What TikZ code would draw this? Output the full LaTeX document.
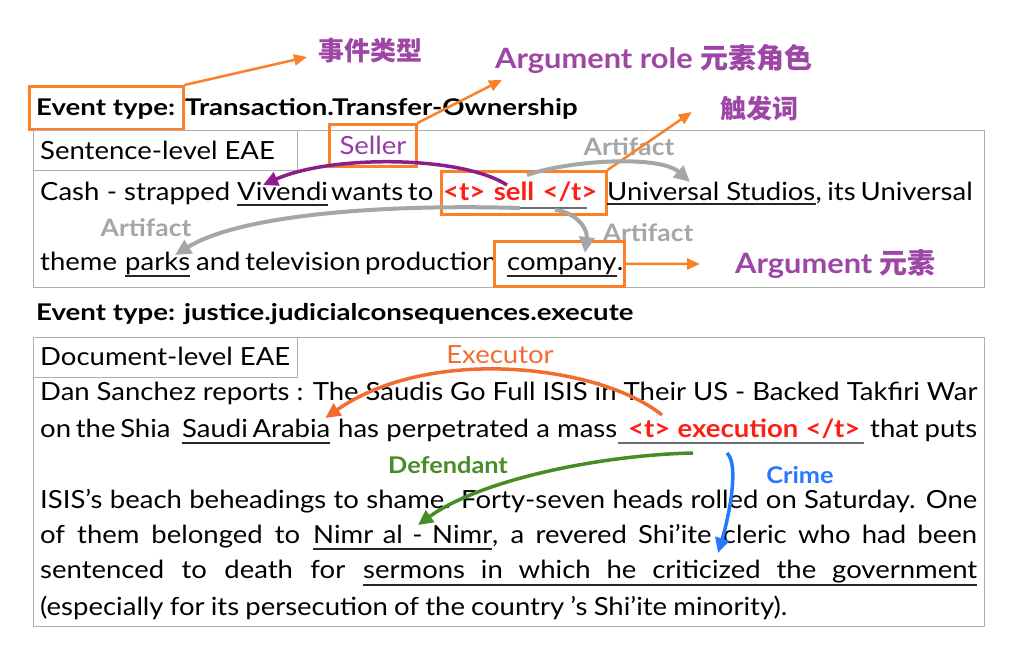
\documentclass[tikz,border=0pt]{standalone}
\usepackage{fontspec}
\setmainfont{Lato}[FakeStretch=1.1]
\newfontfamily\hdfont{Lato}[FakeStretch=1.2]
\newfontfamily\cjk{Noto Sans CJK SC}
\usetikzlibrary{arrows.meta,calc}
\definecolor{orangeA}{RGB}{252,128,40}
\definecolor{purpleL}{RGB}{158,70,165}
\definecolor{purpleS}{RGB}{150,60,165}
\definecolor{purpleA}{RGB}{140,30,140}
\definecolor{grayA}{RGB}{166,166,166}
\definecolor{grayU}{RGB}{110,110,110}
\definecolor{frameC}{RGB}{175,175,175}
\definecolor{redT}{RGB}{255,30,20}
\definecolor{execC}{RGB}{242,108,50}
\definecolor{greenD}{RGB}{72,140,40}
\definecolor{blueC}{RGB}{40,120,255}
\begin{document}
\begin{tikzpicture}[x=1pt,y=-1pt,
  txt/.style={inner sep=0pt, anchor=base west, font=\fontsize{25}{30}\selectfont},
  btxt/.style={inner sep=0pt, anchor=base west, font=\hdfont\bfseries\fontsize{23}{27}\selectfont},
  trg/.style={inner sep=0pt, anchor=base west, text=redT, font=\bfseries\fontsize{25}{30}\selectfont},
  lab/.style={inner sep=0pt, text=purpleL, font=\bfseries\fontsize{28}{32}\selectfont},
  cn/.style={inner sep=0pt, text=purpleL, font=\cjk\bfseries\fontsize{26}{30}\selectfont},
  artlab/.style={inner sep=0pt, text=grayA, font=\bfseries\fontsize{24}{28}\selectfont},
  obox/.style={draw=orangeA, line width=2.5pt, inner sep=0pt, anchor=north west},
  gbox/.style={draw=frameC, line width=1pt, inner sep=0pt, anchor=north west},
  oarrow/.style={draw=orangeA, line width=2.5pt, -{Triangle[length=13pt,width=11pt]}},
  garrow/.style={draw=grayA, line width=4pt, -{Triangle[length=16pt,width=15pt]}},
  parrow/.style={draw=purpleA, line width=3.5pt, -{Triangle[length=15pt,width=14pt]}},
  earrow/.style={draw=execC, line width=3.5pt, -{Triangle[length=15pt,width=14pt]}},
  darrow/.style={draw=greenD, line width=3.5pt, -{Triangle[length=15pt,width=14pt]}},
  carrow/.style={draw=blueC, line width=3.5pt, -{Triangle[length=15pt,width=14pt]}},
  uline/.style={draw=black!85, line width=1.2pt},
  tline/.style={draw=grayU, line width=1.8pt}
]
\useasboundingbox (0,0) rectangle (1026,648);
\fill[white] (0,0) rectangle (1026,648);

% ---------------- Sentence-level part ----------------
\node[obox, minimum width=154, minimum height=43] (evbox) at (28,85) {};
\node[btxt] (ev1) at (36,115) {Event type:};
\node[btxt] (ev1v) at (185,115) {Transaction.Transfer-Ownership};
\node[cn, anchor=west] (cnevt) at (318,51) {事件类型};
\draw[oarrow] (evbox.north east) -- ([xshift=-11pt,yshift=-6pt]cnevt.west);

\node[lab, anchor=west] (argrole) at (495,59) {Argument role {\cjk\bfseries 元素角色}};

\node[gbox, minimum width=951, minimum height=157] (sframe) at (33,130) {};
\node[gbox, minimum width=264, minimum height=40] (slabbox) at (33,130) {};
\node[txt] (slab) at (40,159) {Sentence-level EAE};

\node[obox, minimum width=87, minimum height=42] (sellbox) at (328,123) {};
\node[inner sep=0pt, text=purpleS, font=\fontsize{25}{30}\selectfont] (seller) at (373,145) {Seller};
\draw[oarrow] (sellbox.north east) -- ([xshift=7pt,yshift=-6pt]argrole.south west);

\node[artlab] (art1) at (629,147) {Artifact};
\node[artlab] (art2) at (146,228) {Artifact};
\node[artlab] (art3) at (648,233) {Artifact};

% line 1
\node[txt] (s1a) at (40,200) {\makebox[190pt][s]{Cash - strapped}};
\node[txt] (viv) at (237,200) {Vivendi};
\node[txt] (s1b) at (331,200) {\makebox[101pt][s]{wants to}};
\node[trg] (trig1) at (443,200) {\makebox[154pt][s]{<t> sell </t>}};
\node[txt] (us) at (607,200) {Universal Studios};
\node[txt] (s1c) at (us.base east) {\makebox[157pt][s]{, its Universal}};
\node[obox, minimum width=165, minimum height=43] (trigbox) at (440,170) {};
\draw[uline] ([yshift=-5pt]viv.base west) -- ([yshift=-5pt]viv.base east);
\draw[uline] ([yshift=-4pt]us.base west) -- ([yshift=-4pt]us.base east);
\draw[tline] ([xshift=69pt,yshift=-8pt]trig1.base west) -- ([xshift=144pt,yshift=-8pt]trig1.base west);

% line 2
\node[txt] (s2a) at (40,270) {theme};
\node[txt] (parks) at (125,270) {parks};
\node[txt] (s2b) at (196,270) {\makebox[301pt][s]{and television production}};
\node[txt] (comp) at (507,270) {company};
\node[txt] (dot) at (comp.base east) {.};
\node[obox, minimum width=130, minimum height=45] (compbox) at (493,240) {};
\draw[uline] ([yshift=-6pt]parks.base west) -- ([yshift=-6pt]parks.base east);
\draw[uline] ([yshift=-6pt]comp.base west) -- ([yshift=-6pt]comp.base east);

\node[cn] (chufa) at (759,109) {触发词};
\draw[oarrow] (trigbox.north east) -- ([xshift=-28pt,yshift=-3pt]chufa.west);
\node[lab, anchor=west] (argel) at (735,264) {Argument {\cjk\bfseries 元素}};
\draw[oarrow] (compbox.east) -- ([xshift=-35pt]argel.west);

% sentence arrows
\draw[parrow] ($(trig1.base west)+(64,-15)$) .. controls (460,155) and (330,155) .. ($(viv.base west)+(26,-15)$);
\draw[garrow] ($(trig1.base west)+(84,-25)$) .. controls (570,160) and (660,155) .. ($(us.base west)+(83,-18)$);
\draw[garrow] ($(trig1.base west)+(77,8)$) .. controls (380,204) and (240,215) .. ($(parks.base west)+(50,-15)$);
\draw[garrow] ($(trig1.base west)+(112,10)$) .. controls (575,212) and (588,228) .. ($(comp.base west)+(78,-17)$);

% ---------------- Document-level part ----------------
\node[btxt] (ev2) at (36,320) {Event type: justice.judicialconsequences.execute};
\node[gbox, minimum width=951, minimum height=289] (dframe) at (33,337) {};
\node[gbox, minimum width=264, minimum height=40] (dlabbox) at (33,337) {};
\node[txt] (dlab) at (40,365) {Document-level EAE};

\node[inner sep=0pt, text=execC, font=\fontsize{25}{30}\selectfont] (exec) at (500,355) {Executor};
\node[inner sep=0pt, text=greenD, font=\bfseries\fontsize{23}{27}\selectfont] (defn) at (448,465) {Defendant};
\node[inner sep=0pt, text=blueC, font=\bfseries\fontsize{23}{27}\selectfont] (crime) at (800,475) {Crime};

\node[txt] (d1) at (40,400) {\makebox[937pt][s]{Dan Sanchez reports : The Saudis Go Full ISIS in Their US - Backed Takfiri War}};
\node[txt] (d2a) at (40,437) {\makebox[130pt][s]{on the Shia}};
\node[txt] (sa) at (182,437) {\makebox[148pt][s]{Saudi Arabia}};
\node[txt] (d2b) at (338,437) {\makebox[279pt][s]{has perpetrated a mass}};
\node[trg] (trig2) at (628,437) {\makebox[232pt][s]{<t> execution </t>}};
\node[txt] (d2c) at (870,437) {\makebox[107pt][s]{that puts}};
\node[txt] (d3) at (40,508) {\makebox[937pt][s]{ISIS’s beach beheadings to shame. Forty-seven heads rolled on Saturday. One}};
\node[txt] (d4a) at (40,543) {\makebox[260pt][s]{of them belonged to}};
\node[txt] (nimr) at (313,543) {\makebox[179pt][s]{Nimr al - Nimr}};
\node[txt] (d4b) at (492,543) {\makebox[485pt][s]{, a revered Shi’ite cleric who had been}};
\node[txt] (d5a) at (40,578) {\makebox[305pt][s]{sentenced to death for}};
\node[txt] (serm) at (363,578) {\makebox[614pt][s]{sermons in which he criticized the government}};
\node[txt] (d6) at (40,615) {\makebox[747pt][s]{(especially for its persecution of the country ’s Shi’ite minority).}};

\draw[uline] ([yshift=-6pt]sa.base west) -- ([yshift=-6pt]sa.base east);
\draw[tline] ([xshift=-10pt,yshift=-6pt]trig2.base west) -- ([xshift=4pt,yshift=-6pt]trig2.base east);
\draw[uline] ([yshift=-6pt]nimr.base west) -- ([yshift=-6pt]nimr.base east);
\draw[uline] ([yshift=-7pt]serm.base west) -- ([yshift=-7pt]serm.base east);

\draw[earrow] ($(trig2.base west)+(34,-22)$) .. controls (600,365) and (430,345) .. ($(sa.base east)+(-5,-19)$);
\draw[darrow] ($(trig2.base west)+(65,16)$) .. controls (600,455) and (480,480) .. ($(nimr.base west)+(105,-18)$);
\draw[carrow] ($(trig2.base west)+(99,16)$) .. controls (740,465) and (728,520) .. ($(serm.base west)+(355,-25)$);
\end{tikzpicture}
\end{document}
